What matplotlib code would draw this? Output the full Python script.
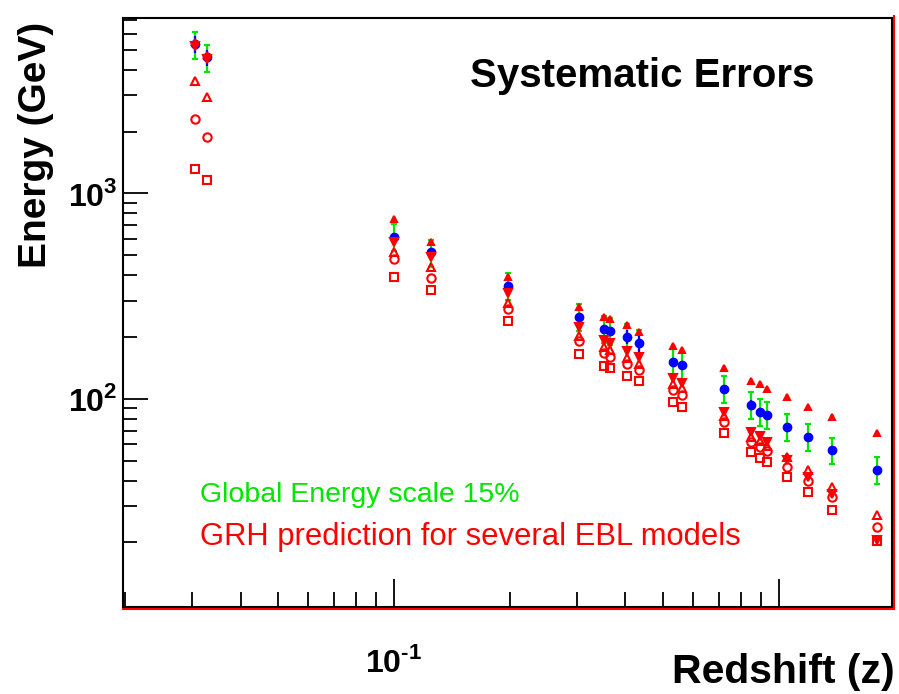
import numpy as np
import matplotlib.pyplot as plt
from matplotlib.lines import Line2D

plt.rcParams['font.family'] = ['Liberation Sans', 'DejaVu Sans']
plt.rcParams['mathtext.fontset'] = 'custom'
plt.rcParams['mathtext.rm'] = 'Liberation Sans:bold'
plt.rcParams['mathtext.bf'] = 'Liberation Sans:bold'

# redshift of each burst
z = [0.0304, 0.0327, 0.100, 0.1248, 0.1978, 0.3023, 0.3512, 0.3640, 0.4029,
     0.4329, 0.5305, 0.5598, 0.7194, 0.8453, 0.8933, 0.931, 1.054, 1.189,
     1.380, 1.797]

# measured cutoff energy (GeV) with its statistical relative error
e_meas = [5333, 4607, 617, 516, 356, 251, 220, 215, 201, 188, 152, 146.5,
          112, 93.5, 86.4, 83.5, 73, 65.3, 56.4, 45.1]
stat_rel = [0.09, 0.09, 0.04, 0.04, 0.04, 0.04, 0.04, 0.04, 0.08, 0.12,
            0.04, 0.04, 0.04, 0.06, 0.05, 0.04, 0.04, 0.04, 0.04, 0.04]
global_scale = 0.15

# GRH predictions for the different EBL models
ebl_a = [5455, 4713, 755, 583, 394, 281, 251, 245, 230, 212, 181, 173, 142,
         122, 118, 112, 102, 91.4, 81.7, 68.3]
ebl_b = [5213, 4505, 583, 493, 329, 225, 194, 188, 171, 160, 127, 120, 86.4,
         69, 66, 61.7, 50.4, 41.6, 34.4, 20.5]
ebl_c = [3518, 2940, 521, 441, 294, 203, 179, 173, 158, 148, 118, 113, 82.6,
         65.3, 62.4, 59, 52.1, 45.1, 37.2, 27.2]
ebl_d = [2296, 1876, 482, 389, 275, 192, 168, 160, 148, 138, 111, 104.6,
         77.2, 61.7, 58.3, 55.7, 46.6, 39.8, 33.3, 23.8]
ebl_e = [1310, 1157, 394, 340, 240, 166, 145, 142, 129, 122, 96.7, 91.4,
         68.3, 55.1, 51.5, 49.3, 41.6, 35.2, 28.7, 20.3]

z = np.array(z)
e_meas = np.array(e_meas)
stat_rel = np.array(stat_rel)

red = '#ff0000'
green = '#00e600'
blue = '#0000ff'

fig = plt.figure(figsize=(8.99, 6.94), dpi=100)
ax = fig.add_axes([123/899, 1-607/694, (892-123)/899, (607-18)/694])

ax.errorbar(z, e_meas, yerr=global_scale*e_meas, fmt='none', ecolor=green,
            elinewidth=1.6, capsize=2.2, capthick=1.6, zorder=2)
ax.errorbar(z, e_meas, yerr=stat_rel*e_meas, fmt='o', color=blue, ms=6,
            elinewidth=1.6, capsize=0, zorder=3)

mk = dict(linestyle='none', color=red, mew=1.5, zorder=4)
ax.plot(z, ebl_a, marker='^', ms=4.5, **mk)
ax.plot(z, ebl_b, marker='v', ms=6, **mk)
ax.plot(z, ebl_c, marker='^', ms=6, mfc='none', **mk)
ax.plot(z, ebl_d, marker='o', ms=6, mfc='none', **mk)
ax.plot(z, ebl_e, marker='s', ms=6, mfc='none', **mk)

ax.set_xscale('log')
ax.set_yscale('log')
ax.set_xlim(0.0198, 1.97)
ax.set_ylim(9.7, 7150)

ax.set_xticks([0.1, 1])
ax.set_xticklabels([r'$10^{\text{-}1}$', ''])
ax.set_yticks([100, 1000])
ax.set_yticklabels([r'$10^{2}$', r'$10^{3}$'])
ax.tick_params(which='both', direction='in', top=False, right=False,
               width=1.3, color='black')
ax.tick_params(axis='y', which='major', length=18, pad=4, labelsize=23)
ax.tick_params(axis='y', which='minor', length=10)
ax.tick_params(axis='x', which='major', length=20, pad=29, labelsize=23)
ax.tick_params(axis='x', which='minor', length=11)
ax.xaxis.set_minor_formatter(plt.NullFormatter())
ax.yaxis.set_minor_formatter(plt.NullFormatter())

for s in ax.spines.values():
    s.set_linewidth(1.5)
    s.set_color('black')

# red frame edge on the right and bottom sides
fig.add_artist(Line2D([894/899, 894/899], [1-607/694, 1-16/694],
                      color=red, lw=1.5))
fig.add_artist(Line2D([123/899, 894/899], [1-609/694, 1-609/694],
                      color=red, lw=1.5))

fig.text(36/899, 1-145/694, 'Energy (GeV)', rotation=90, ha='center',
         va='center', fontsize=28, fontweight='bold')
fig.text(895/899, 1-672/694, 'Redshift (z)', ha='right', va='center',
         fontsize=29.5, fontweight='bold')
fig.text(470/899, 1-76/694, 'Systematic Errors', ha='left', va='center',
         fontsize=29, fontweight='bold')
fig.text(200/899, 1-495/694, 'Global Energy scale 15%', ha='left',
         va='center', fontsize=20.5, color=green)
fig.text(200/899, 1-537/694, 'GRH prediction for several EBL models',
         ha='left', va='center', fontsize=22.3, color=red)

fig.savefig('out.png', dpi=100)
